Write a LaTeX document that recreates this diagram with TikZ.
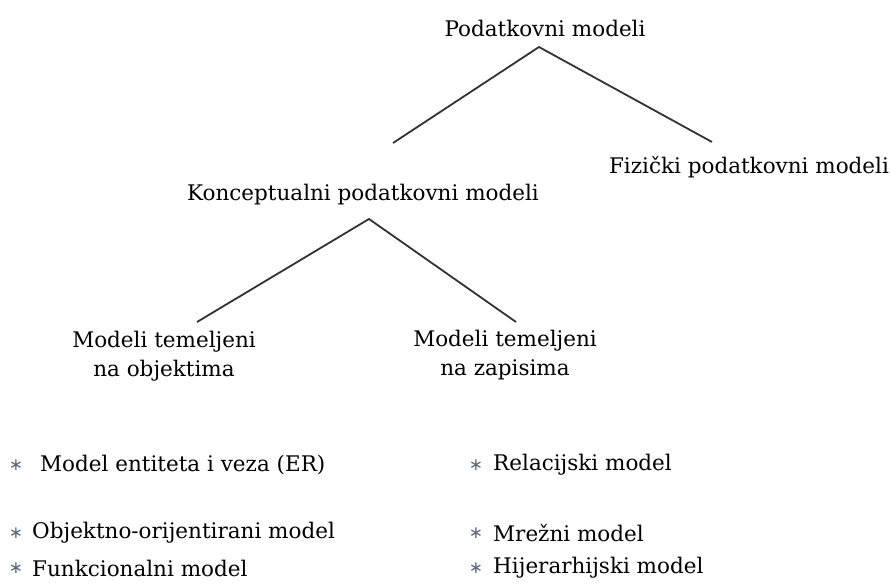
\documentclass[tikz,border=0pt]{standalone}
\usepackage{fontspec}
\setmainfont{DejaVu Serif}
\newfontfamily\astfont{DejaVu Sans}
\definecolor{linecol}{RGB}{50,50,50}
\definecolor{astcol}{RGB}{95,105,125}
\tikzset{
  lbl/.style={inner sep=0pt, font=\fontsize{21.5}{29}\selectfont, align=center},
  item/.style={inner sep=0pt, anchor=west, font=\fontsize{21.5}{29}\selectfont},
  ast/.style={inner sep=0pt, text=astcol, font=\astfont\fontsize{17}{17}\selectfont},
  conn/.style={draw=linecol, line width=1.8pt}
}
\begin{document}
\begin{tikzpicture}[x=1pt,y=-1pt]
\useasboundingbox (0,0) rectangle (891,585);
% tree nodes
\node[lbl] (pm) at (545,28) {Podatkovni modeli};
\node[lbl] (fpm) at (749,167) {Fizički podatkovni modeli};
\node[lbl] (kpm) at (363,195) {Konceptualni podatkovni modeli};
\node[lbl] (mto) at (164,356) {Modeli temeljeni\\na objektima};
\node[lbl] (mtz) at (505,355) {Modeli temeljeni\\na zapisima};
% connector ends
\coordinate (a1) at (539,47);
\coordinate (l1) at (393,143);
\coordinate (r1) at (712,142);
\coordinate (a2) at (369,219);
\coordinate (l2) at (197,322);
\coordinate (r2) at (516,322);
\draw[conn] (l1) -- (a1) -- (r1);
\draw[conn] (l2) -- (a2) -- (r2);
% bullet lists
\node[ast] (s1) at (16,465) {∗};
\node[item] (t1) at (40,465) {Model entiteta i veza (ER)};
\node[ast] (s2) at (16,533) {∗};
\node[item] (t2) at (32,533) {Objektno-orijentirani model};
\node[ast] (s3) at (16,568) {∗};
\node[item] (t3) at (32,568) {Funkcionalni model};
\node[ast] (s4) at (476,465) {∗};
\node[item] (t4) at (493,465) {Relacijski model};
\node[ast] (s5) at (476,533) {∗};
\node[item] (t5) at (493,533) {Mrežni model};
\node[ast] (s6) at (476,568) {∗};
\node[item] (t6) at (493,568) {Hijerarhijski model};
\end{tikzpicture}
\end{document}
